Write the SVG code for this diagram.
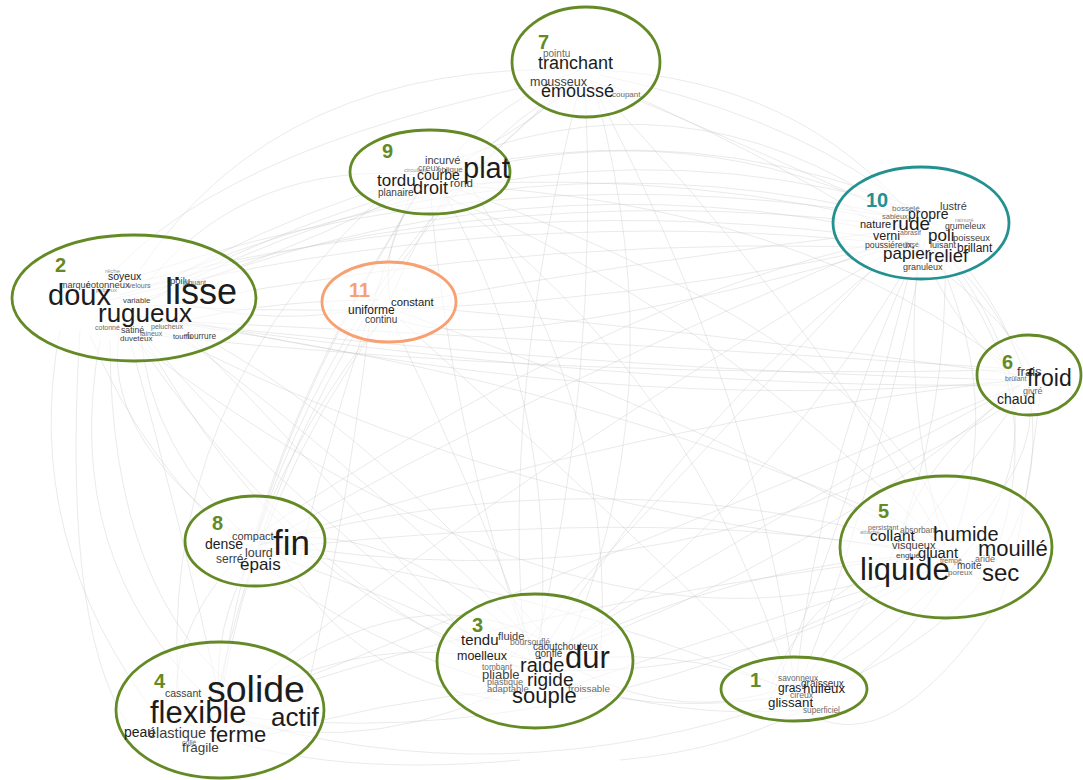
<svg xmlns="http://www.w3.org/2000/svg" width="1083" height="780" viewBox="0 0 1083 780">
<style>
text{font-family:"Liberation Sans",Arial,sans-serif}
.a{fill:#1c1c1c}
.b{fill:#3d3d3d}
.c{fill:#6a6a6a}
.d{fill:#999}
.n{font-weight:bold;font-size:20px}
.g{fill:#648a26}
.t{fill:#23918f}
.o{fill:#f7a070}
.e{fill:#fff;fill-opacity:0.55;stroke-width:2.8}
.eg{stroke:#648a26}
.et{stroke:#23918f}
.eo{stroke:#f7a070}
.L path{fill:none;stroke:#c4c4c4;stroke-opacity:0.5;stroke-width:0.7}
</style>
<rect width="1083" height="780" fill="#fff"/>
<g id="connectors" class="L">
<path d="M140 290 Q520 120 910 220 M150 300 Q520 150 900 235 M130 310 Q540 90 930 215 M145 305 Q530 330 915 240 M120 295 Q520 170 925 230 M110 300 Q500 200 905 245 M160 285 Q560 60 920 210 M100 290 Q500 140 940 225 M125 285 Q520 185 895 240 M170 305 Q560 230 935 250"/>
<path d="M140 310 Q600 420 1020 380 M150 320 Q580 340 1030 370 M130 315 Q620 390 1015 385 M140 320 Q520 520 940 550 M120 330 Q600 700 930 560 M130 330 Q420 760 790 695 M140 330 Q300 620 530 660 M160 320 Q400 500 540 650 M100 340 Q60 560 210 700 M130 340 Q180 520 220 700 M140 330 Q150 450 250 540 M150 280 Q250 160 420 175 M160 290 Q300 220 430 185 M140 270 Q280 60 580 70 M170 300 Q280 330 380 305 M60 330 Q20 540 160 720 M90 335 Q200 600 520 690 M150 335 Q580 380 1010 370 M110 340 Q110 600 250 700 M80 330 Q60 650 140 740 M175 320 Q330 480 480 650 M190 330 Q380 430 560 655"/>
<path d="M450 175 Q690 110 910 220 M440 185 Q700 170 920 230 M430 170 Q680 60 900 215 M440 185 Q800 200 1020 375 M430 190 Q700 300 940 545 M430 190 Q450 430 530 655 M440 185 Q560 400 540 650 M420 190 Q250 450 220 700 M420 190 Q300 380 255 540 M440 190 Q700 380 790 690 M450 160 Q500 100 580 70 M420 190 Q380 240 390 300 M400 180 Q150 400 180 710 M460 190 Q900 350 960 560 M410 195 Q330 420 300 560 M470 185 Q620 420 600 660"/>
<path d="M600 70 Q800 80 915 220 M590 80 Q760 150 930 230 M600 75 Q950 150 1025 375 M590 80 Q800 300 945 545 M585 80 Q600 380 535 655 M580 85 Q500 400 525 650 M575 80 Q300 300 215 705 M580 80 Q350 250 255 540 M590 80 Q760 400 795 690 M580 80 Q450 150 390 300 M570 90 Q400 220 140 300 M610 85 Q1000 260 1040 390 M595 90 Q680 400 560 665 M560 80 Q200 150 90 300"/>
<path d="M930 240 Q1000 300 1025 375 M920 245 Q960 340 1020 380 M920 240 Q900 400 945 545 M930 240 Q1010 400 950 550 M910 240 Q700 400 540 655 M920 245 Q760 520 535 665 M910 240 Q500 480 225 705 M905 235 Q550 380 260 545 M920 245 Q820 450 795 690 M925 240 Q880 480 800 685 M900 230 Q640 260 395 305 M890 240 Q600 300 250 540 M940 245 Q1080 420 960 560 M915 250 Q850 520 770 700 M935 250 Q1050 380 1000 540 M895 245 Q640 520 480 690 M945 240 Q950 420 890 560"/>
<path d="M1030 390 Q1040 470 950 545 M1020 385 Q800 500 540 660 M1020 385 Q600 560 225 710 M1020 380 Q640 420 260 545 M1025 390 Q900 560 795 690 M1020 375 Q700 330 395 305 M1015 380 Q600 370 150 320 M1030 395 Q1060 600 800 700 M1015 390 Q900 480 900 560 M1040 395 Q1020 560 1000 600"/>
<path d="M395 310 Q650 400 940 550 M390 315 Q470 480 535 655 M385 315 Q250 500 220 705 M385 315 Q300 420 255 540 M395 315 Q600 500 790 690 M380 300 Q250 300 150 330 M400 320 Q500 360 920 240 M370 320 Q340 560 300 720"/>
<path d="M260 545 Q600 450 940 550 M260 550 Q400 600 530 660 M255 550 Q210 630 220 705 M260 550 Q520 580 790 690 M250 540 Q700 620 1030 390 M270 540 Q400 520 530 650 M240 555 Q160 640 180 730 M280 550 Q350 680 500 700 M230 530 Q100 430 120 330"/>
<path d="M940 555 Q740 560 540 660 M945 560 Q760 680 540 670 M940 560 Q580 760 225 715 M945 560 Q870 620 800 690 M950 560 Q700 500 260 550 M940 540 Q600 380 150 320 M930 570 Q700 640 560 690 M955 565 Q850 740 620 760 M900 560 Q800 600 770 690"/>
<path d="M530 670 Q380 620 225 710 M535 675 Q380 760 225 720 M540 665 Q670 640 790 690 M225 715 Q500 800 790 700 M540 660 Q820 560 1020 385 M520 670 Q300 520 140 330 M560 660 Q760 780 960 560 M200 720 Q480 610 930 555 M510 690 Q380 700 250 740 M560 680 Q680 720 800 710 M240 700 Q420 560 560 650 M180 720 Q300 780 520 760 M790 700 Q880 780 1000 600"/>
</g>
<g id="n7"><ellipse class="e eg" cx="586" cy="62" rx="74" ry="55"/>
<text class="n g" x="538" y="49">7</text>
<text class="c" x="543" y="57" font-size="10">pointu</text>
<text class="a" x="538" y="69" font-size="18">tranchant</text>
<text class="b" x="530" y="86" font-size="12.5">mousseux</text>
<text class="a" x="541" y="97" font-size="18">émoussé</text>
<text class="c" x="612" y="97" font-size="8">coupant</text></g>
<g id="n9"><ellipse class="e eg" cx="430" cy="172" rx="80" ry="42"/>
<text class="n g" x="382" y="158">9</text>
<text class="b" x="425" y="164" font-size="11">incurvé</text>
<text class="d" x="404" y="172" font-size="6">circulaire</text>
<text class="c" x="418" y="171" font-size="9">creux</text>
<text class="c" x="437" y="172" font-size="8">oblique</text>
<text class="a" x="463" y="178" font-size="29">plat</text>
<text class="a" x="417" y="180" font-size="14">courbe</text>
<text class="a" x="377" y="186" font-size="17">tordu</text>
<text class="b" x="450" y="187" font-size="11.5">rond</text>
<text class="a" x="413" y="194" font-size="18">droit</text>
<text class="b" x="378" y="196" font-size="10">planaire</text></g>
<g id="n10"><ellipse class="e et" cx="921" cy="223" rx="88" ry="56"/>
<text class="n t" x="866" y="207">10</text>
<text class="c" x="892" y="211" font-size="8">bosselé</text>
<text class="b" x="940" y="210" font-size="11">lustré</text>
<text class="c" x="882" y="219" font-size="7.5">sableux</text>
<text class="a" x="908" y="219" font-size="14">propre</text>
<text class="d" x="955" y="222" font-size="6">rainuré</text>
<text class="a" x="860" y="228" font-size="11">nature</text>
<text class="a" x="892" y="230" font-size="19">rude</text>
<text class="b" x="945" y="229" font-size="8.7">grumeleux</text>
<text class="a" x="873" y="240" font-size="12.5">verni</text>
<text class="c" x="900" y="235" font-size="7">abrasif</text>
<text class="a" x="928" y="241" font-size="17">poli</text>
<text class="b" x="953" y="241" font-size="9.4">poisseux</text>
<text class="b" x="865" y="248" font-size="8.7">poussiéreux</text>
<text class="c" x="905" y="247" font-size="7">lissé</text>
<text class="b" x="930" y="248" font-size="9">luisant</text>
<text class="a" x="957" y="252" font-size="12">brillant</text>
<text class="a" x="883" y="259" font-size="17">papier</text>
<text class="a" x="928" y="262" font-size="18.5">relief</text>
<text class="b" x="903" y="270" font-size="9">granuleux</text></g>
<g id="n2"><ellipse class="e eg" cx="134" cy="298" rx="122" ry="63"/>
<text class="n g" x="55" y="272">2</text>
<text class="d" x="105" y="273" font-size="6">rêche</text>
<text class="a" x="108" y="280" font-size="10.5">soyeux</text>
<text class="b" x="60" y="288" font-size="9">marqué</text>
<text class="b" x="86" y="288" font-size="9.5">cotonneux</text>
<text class="c" x="128" y="288" font-size="7">velours</text>
<text class="d" x="96" y="292" font-size="6">pulpeux</text>
<text class="b" x="170" y="284" font-size="9.5">poilu</text>
<text class="c" x="183" y="285" font-size="7">piquant</text>
<text class="a" x="48" y="305" font-size="29">doux</text>
<text class="b" x="123" y="303" font-size="7.8">variable</text>
<text class="a" x="165" y="304" font-size="36">lisse</text>
<text class="a" x="98" y="322" font-size="26">rugueux</text>
<text class="c" x="95" y="330" font-size="7">cotonné</text>
<text class="b" x="121" y="333" font-size="8.7">satiné</text>
<text class="c" x="140" y="336" font-size="7">laineux</text>
<text class="c" x="151" y="329" font-size="7">pelucheux</text>
<text class="b" x="120" y="341" font-size="8">duveteux</text>
<text class="b" x="173" y="339" font-size="7.5">touffu</text>
<text class="b" x="187" y="339" font-size="8.3">fourrure</text></g>
<g id="n11"><ellipse class="e eo" cx="389" cy="302" rx="67" ry="40"/>
<text class="n o" x="349" y="297">11</text>
<text class="a" x="391" y="306" font-size="11.3">constant</text>
<text class="a" x="348" y="314" font-size="12">uniforme</text>
<text class="b" x="365" y="323" font-size="10">continu</text></g>
<g id="n6"><ellipse class="e eg" cx="1029" cy="375" rx="52" ry="40"/>
<text class="n g" x="1002" y="369">6</text>
<text class="b" x="1017" y="376" font-size="13">frais</text>
<text class="c" x="1005" y="381" font-size="7">brûlant</text>
<text class="a" x="1027" y="386" font-size="23">froid</text>
<text class="c" x="1023" y="394" font-size="9">givré</text>
<text class="a" x="997" y="404" font-size="14">chaud</text></g>
<g id="n8"><ellipse class="e eg" cx="255" cy="541" rx="70" ry="45"/>
<text class="n g" x="212" y="530">8</text>
<text class="b" x="232" y="540" font-size="11">compact</text>
<text class="a" x="205" y="549" font-size="14">dense</text>
<text class="a" x="273" y="555" font-size="35">fin</text>
<text class="b" x="245" y="557" font-size="12.5">lourd</text>
<text class="b" x="216" y="563" font-size="12">serré</text>
<text class="a" x="240" y="570" font-size="17">épais</text></g>
<g id="n5"><ellipse class="e eg" cx="946" cy="547" rx="106" ry="71"/>
<text class="n g" x="878" y="518">5</text>
<text class="c" x="868" y="530" font-size="7">persistant</text>
<text class="d" x="860" y="534" font-size="6">attaché</text>
<text class="c" x="900" y="533" font-size="8.4">absorbant</text>
<text class="a" x="870" y="541" font-size="15.5">collant</text>
<text class="a" x="933" y="541" font-size="20">humide</text>
<text class="b" x="892" y="549" font-size="11">visqueux</text>
<text class="a" x="978" y="556" font-size="22">mouillé</text>
<text class="b" x="896" y="558" font-size="8">englué</text>
<text class="a" x="918" y="558" font-size="14.7">gluant</text>
<text class="c" x="940" y="563" font-size="7">trempé</text>
<text class="c" x="975" y="562" font-size="9">aride</text>
<text class="b" x="957" y="569" font-size="10">moite</text>
<text class="a" x="860" y="580" font-size="31">liquide</text>
<text class="c" x="948" y="575" font-size="8">poreux</text>
<text class="a" x="982" y="581" font-size="24">sec</text></g>
<g id="n3"><ellipse class="e eg" cx="535" cy="661" rx="98" ry="67"/>
<text class="n g" x="472" y="632">3</text>
<text class="b" x="498" y="640" font-size="11">fluide</text>
<text class="a" x="461" y="645" font-size="15">tendu</text>
<text class="c" x="510" y="645" font-size="8.6">boursouflé</text>
<text class="b" x="533" y="650" font-size="10">caoutchouteux</text>
<text class="b" x="535" y="657" font-size="10">gonflé</text>
<text class="a" x="457" y="660" font-size="12.5">moelleux</text>
<text class="a" x="565" y="668" font-size="31">dur</text>
<text class="c" x="482" y="670" font-size="8.3">tombant</text>
<text class="a" x="520" y="672" font-size="20">raide</text>
<text class="b" x="482" y="679" font-size="13">pliable</text>
<text class="c" x="487" y="685" font-size="9">plastique</text>
<text class="a" x="527" y="686" font-size="19">rigide</text>
<text class="c" x="487" y="692" font-size="9.5">adaptable</text>
<text class="c" x="568" y="692" font-size="9.8">froissable</text>
<text class="a" x="512" y="703" font-size="22">souple</text></g>
<g id="n4"><ellipse class="e eg" cx="220" cy="710" rx="104" ry="68"/>
<text class="n g" x="154" y="688">4</text>
<text class="b" x="165" y="697" font-size="10.5">cassant</text>
<text class="a" x="207" y="702" font-size="37.5">solide</text>
<text class="a" x="150" y="723" font-size="31">flexible</text>
<text class="a" x="271" y="726" font-size="26">actif</text>
<text class="a" x="124" y="737" font-size="14">peau</text>
<text class="b" x="148" y="738" font-size="14.5">élastique</text>
<text class="a" x="210" y="742" font-size="22">ferme</text>
<text class="c" x="182" y="745" font-size="7">collé</text>
<text class="b" x="182" y="752" font-size="13.5">fragile</text></g>
<g id="n1"><ellipse class="e eg" cx="794" cy="689" rx="73" ry="32"/>
<text class="n g" x="750" y="687">1</text>
<text class="c" x="778" y="681" font-size="8.3">savonneux</text>
<text class="b" x="801" y="687" font-size="10">graisseux</text>
<text class="a" x="778" y="692" font-size="12">gras</text>
<text class="a" x="803" y="693" font-size="13.3">huileux</text>
<text class="c" x="790" y="698" font-size="8.7">cireux</text>
<text class="a" x="768" y="707" font-size="13.3">glissant</text>
<text class="c" x="803" y="713" font-size="8.2">superficiel</text></g>
</svg>
